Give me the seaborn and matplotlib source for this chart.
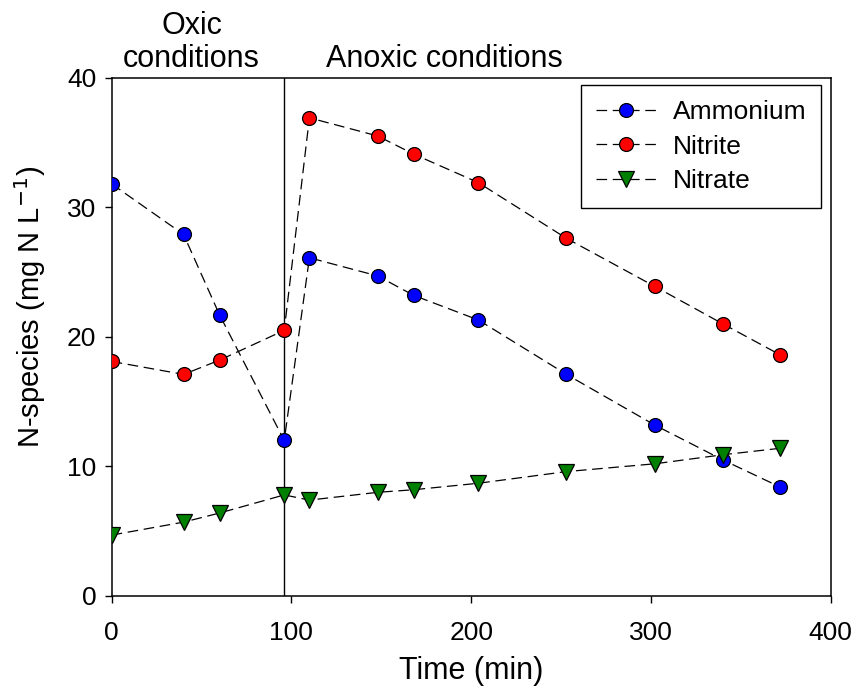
import matplotlib
matplotlib.use("Agg")
import matplotlib.pyplot as plt
import seaborn as sns
import pandas as pd
from matplotlib.lines import Line2D

time_min = [0, 40, 60, 96, 110, 148, 168, 204, 253, 302, 340, 372]
ammonium = [31.8, 27.9, 21.7, 12.0, 26.1, 24.7, 23.2, 21.3, 17.1, 13.2, 10.5, 8.4]
nitrite = [18.1, 17.1, 18.2, 20.5, 36.9, 35.5, 34.1, 31.9, 27.6, 23.9, 21.0, 18.6]
nitrate = [4.7, 5.7, 6.4, 7.8, 7.4, 8.0, 8.2, 8.7, 9.6, 10.2, 10.9, 11.4]
switch_time = 96
series_names = ["Ammonium", "Nitrite", "Nitrate"]
series_colors = ["#0000FF", "#FF0000", "#008000"]
series_markers = ["o", "o", "v"]

sns.set_style("ticks")
plt.rcParams["font.family"] = ["Liberation Sans", "DejaVu Sans"]
plt.rcParams["text.color"] = "black"
plt.rcParams["axes.labelcolor"] = "black"
plt.rcParams["xtick.color"] = "black"
plt.rcParams["ytick.color"] = "black"

df = pd.DataFrame({"Time": time_min * 3,
                   "Value": ammonium + nitrite + nitrate,
                   "Species": sum([[n] * len(time_min) for n in series_names], [])})

fig = plt.figure(figsize=(8.55, 6.96), dpi=100)
ax = fig.add_axes([0.1306, 0.1437, 0.8410, 0.7447])

ax.axvline(switch_time, color="black", lw=1.0, zorder=1)

dash = (0, (8.5, 4.5))
handles = []
for name, col, mk in zip(series_names, series_colors, series_markers):
    sub = df[df["Species"] == name]
    ms = 10 if mk == "o" else 11
    sns.lineplot(data=sub, x="Time", y="Value", ax=ax, color="black", lw=0.9,
                 linestyle=dash, marker=None, legend=False, zorder=2, sort=False)
    ax.plot(sub["Time"], sub["Value"], linestyle="none", marker=mk,
            markersize=ms, markerfacecolor=col,
            markeredgecolor="black", markeredgewidth=0.9, zorder=3)
    handles.append(Line2D([], [], color="black", lw=0.9, linestyle=dash, marker=mk,
                          markersize=ms, markerfacecolor=col,
                          markeredgecolor="black", markeredgewidth=0.9))

ax.set_xlim(0, 400)
ax.set_ylim(0, 40)
ax.set_xticks([0, 100, 200, 300, 400])
ax.set_yticks([0, 10, 20, 30, 40])
ax.tick_params(direction="out", length=5, width=1, labelsize=19, colors="black")
ax.tick_params(axis="x", pad=13)
ax.tick_params(axis="y", pad=6)
for s in ax.spines.values():
    s.set_visible(True)
    s.set_linewidth(1.1)
    s.set_color("black")

ax.set_xlabel("Time (min)", fontsize=22, labelpad=8)
ax.set_ylabel("N-species (mg N L$^{-1}$)", fontsize=21)
ax.yaxis.set_label_coords(-0.089, 0.558)

leg = ax.legend(handles, series_names, loc="upper right", bbox_to_anchor=(0.986, 0.985),
                borderaxespad=0, fontsize=19, frameon=True, fancybox=False,
                edgecolor="black", framealpha=1, handlelength=2.3, labelspacing=0.4,
                handletextpad=0.6, borderpad=0.55)
leg.get_frame().set_linewidth(1.0)

ax.text(44.4, 1.008, "Oxic\nconditions", transform=ax.get_xaxis_transform(),
        ha="center", va="bottom", fontsize=22, linespacing=1.1)
ax.text(185, 1.008, "Anoxic conditions", transform=ax.get_xaxis_transform(),
        ha="center", va="bottom", fontsize=22)

fig.savefig("out.png", dpi=100)
